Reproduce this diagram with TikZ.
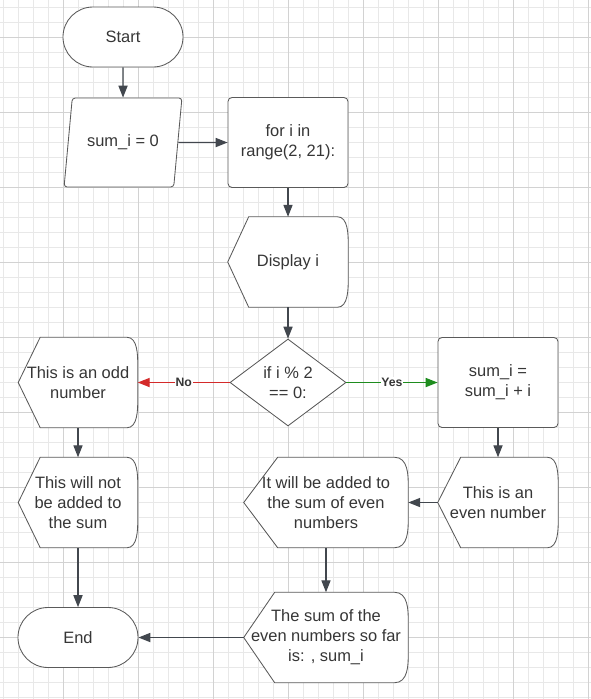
\documentclass[tikz,border=0pt]{standalone}
\usepackage{fontspec}
\setmainfont{Liberation Sans}
\usetikzlibrary{shapes.geometric,arrows.meta}

\newlength\pxu
\setlength\pxu{0.025cm}

\definecolor{ink}{HTML}{363636}
\definecolor{edge}{HTML}{5A5A5A}
\definecolor{arrowgray}{HTML}{42474E}
\definecolor{nored}{HTML}{D42A2A}
\definecolor{yesgreen}{HTML}{1E8C1E}
\definecolor{gridminor}{HTML}{E8E8E8}
\definecolor{gridmajor}{HTML}{D2D2D2}

\pgfdeclarelayer{grid}
\pgfdeclarelayer{back}
\pgfsetlayers{grid,back,main}

\tikzset{
  every node/.style={text=ink, font=\fontsize{11.7}{14.2}\selectfont, align=center},
  terminal/.style={draw=edge, fill=white, rectangle, rounded corners=30\pxu,
    minimum width=120\pxu, minimum height=60\pxu, line width=0.6pt},
  inbox/.style={draw=edge, fill=white, trapezium, trapezium left angle=75,
    trapezium right angle=105, trapezium stretches=true,
    minimum width=118\pxu, minimum height=89\pxu, rounded corners=3\pxu, line width=0.6pt},
  procbox/.style={draw=edge, fill=white, rectangle, rounded corners=4\pxu,
    minimum width=120\pxu, minimum height=90\pxu, line width=0.6pt},
  decision/.style={draw=edge, fill=white, diamond, minimum width=116\pxu,
    minimum height=87\pxu, inner sep=0pt, line width=0.6pt},
  dispbox/.style={minimum width=#1, minimum height=90\pxu, inner sep=0pt},
  displine/.style={draw=edge, fill=white, line width=0.6pt},
  flow/.style={arrowgray, line width=0.9pt, -{Triangle[length=8.5pt,width=6.5pt]}},
  flowlabel/.style={font=\bfseries\fontsize{8.7}{10}\selectfont, fill=white, inner sep=0.6pt},
  minorgrid/.style={gridminor, line width=0.5pt},
  majorgrid/.style={gridmajor, line width=0.6pt},
}

\begin{document}
\begin{tikzpicture}[x=\pxu, y=-\pxu]

\useasboundingbox (0,0) rectangle (591,699);

% Grid paper
\begin{pgfonlayer}{grid}
\fill[white] (0,0) rectangle (591,699);
\foreach \gx in {3,18,...,588} \draw[minorgrid] (\gx,0) -- (\gx,699);
\foreach \gy in {7,22,...,697} \draw[minorgrid] (0,\gy) -- (591,\gy);
\foreach \gx in {63,138,...,588} \draw[majorgrid] (\gx,0) -- (\gx,699);
\foreach \gy in {37,112,...,637} \draw[majorgrid] (0,\gy) -- (591,\gy);
\end{pgfonlayer}

% Main column
\node[terminal] (start) at (123,37) {Start};
\node[inbox] (init) at (123,142.5) {sum\_i = 0};
\node[procbox] (loop) at (288,142.5) {for i in\\range(2, 21):};
\node[dispbox=120\pxu] (disp) at (288,262) {Display i};
\node[decision] (check) at (288,382.5) {if i \% 2\\== 0:};

% Odd branch
\node[dispbox=119\pxu] (odd) at (78,382.5) {This is an odd\\number};
\node[dispbox=119\pxu] (notadd) at (78,502.5) {This will not\\be added to\\the sum};
\node[terminal] (end) at (78,637.5) {End};

% Even branch
\node[procbox] (add) at (498,382.5) {sum\_i =\\sum\_i + i};
\node[dispbox=120\pxu] (even) at (498,502.5) {This is an\\even number};
\node[dispbox=164\pxu] (added) at (326,502.5) {It will be added to\\the sum of even\\numbers};
\node[dispbox=164\pxu] (sofar) at (326,637.5) {The sum of the\\even numbers so far\\is: , sum\_i};

% Display outlines, behind the text
\begin{pgfonlayer}{back}
\foreach \n/\s/\c in {disp/21/11, odd/22/11, notadd/22/11, even/23/11, added/34/14, sofar/31/14}
  \draw[displine] (\n.west) -- ([shift={(\s,0)}]\n.north west)
    -- ([shift={(-\c,0)}]\n.north east)
    .. controls (\n.north east) and ([shift={(0,18)}]\n.north east) .. ([shift={(0,30)}]\n.north east)
    -- ([shift={(0,-30)}]\n.south east)
    .. controls ([shift={(0,-18)}]\n.south east) and (\n.south east) .. ([shift={(-\c,0)}]\n.south east)
    -- ([shift={(\s,0)}]\n.south west) -- cycle;
\end{pgfonlayer}

% Connectors
\draw[flow] (start) -- (init);
\draw[flow] (init) -- (loop);
\draw[flow] (loop) -- (disp);
\draw[flow] (disp) -- (check);
\draw[flow, nored] (check) -- node[flowlabel] {No} (odd);
\draw[flow, yesgreen] (check) -- node[flowlabel] {Yes} (add);
\draw[flow] (odd) -- (notadd);
\draw[flow] (notadd) -- (end);
\draw[flow] (add) -- (even);
\draw[flow] (even) -- (added);
\draw[flow] (added) -- (sofar);
\draw[flow] (sofar) -- (end);

\end{tikzpicture}
\end{document}
